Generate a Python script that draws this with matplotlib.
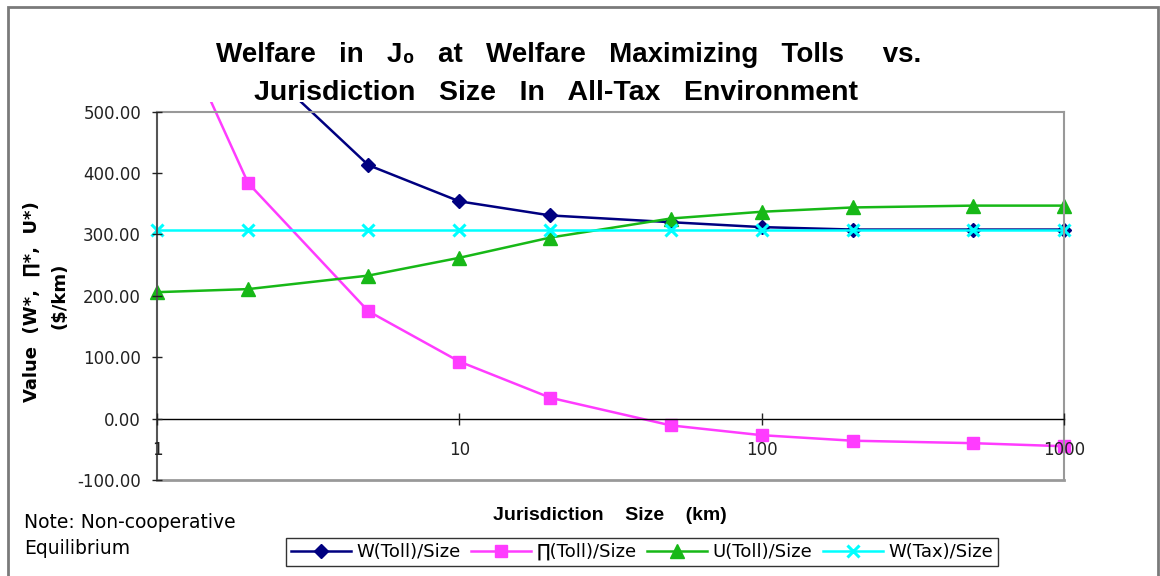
import matplotlib
matplotlib.use("Agg")
import matplotlib.pyplot as plt
from matplotlib.patches import Rectangle
from matplotlib.ticker import FixedLocator, FuncFormatter

# ---- data ----
sizes = [1, 2, 5, 10, 20, 50, 100, 200, 500, 1000]
w_toll = [900, 597, 413, 354, 331, 320, 312, 308, 308, 308]
pi_toll = [710, 384, 175, 93, 34, -11, -27, -36, -40, -45]
u_toll = [206, 211, 233, 262, 295, 326, 337, 344, 347, 347]
w_tax = [308, 308, 308, 308, 308, 308, 308, 308, 308, 308]
series_names = ["W(Toll)/Size", "\u220f(Toll)/Size", "U(Toll)/Size", "W(Tax)/Size"]
y_ticks = [-100, 0, 100, 200, 300, 400, 500]
x_ticks = [1, 10, 100, 1000]

W, H = 1160, 576
fig = plt.figure(figsize=(W / 100, H / 100), dpi=100)
fig.patch.set_facecolor("white")

# outer chart border
fig.add_artist(Rectangle((8 / W, -0.01), (1158 - 8) / W, (H - 7) / H + 0.01,
                         transform=fig.transFigure, fill=False,
                         edgecolor="#7a7a7a", lw=2.0, zorder=0))

ax = fig.add_axes([157 / W, (H - 480) / H, (1064 - 157) / W, (480 - 111.7) / H])
ax.set_xscale("log")
ax.set_xlim(1, 1000)
ax.set_ylim(-100, 500)
ax.set_axisbelow(False)

colors = ["#000080", "#ff3cff", "#17b817", "#00ffff"]
markers = ["D", "s", "^", "x"]
msizes = [7, 8, 10, 9]
data = [w_toll, pi_toll, u_toll, w_tax]

clip = Rectangle((-0.03, -0.05), 1.06, 1.05 + 10 / 368.3, transform=ax.transAxes,
                 fill=False, visible=False)
ax.add_patch(clip)
handles = []
for vals, c, m, ms, name in zip(data, colors, markers, msizes, series_names):
    ln, = ax.plot(sizes, vals, color=c, marker=m, markersize=ms, lw=1.8,
                  markeredgewidth=2.2 if m == "x" else 1.0,
                  markeredgecolor=c, markerfacecolor=c, label=name, zorder=2)
    ln.set_clip_path(clip)
    handles.append(ln)

# spines / frame
for s in ["top", "right"]:
    ax.spines[s].set_color("#999999")
    ax.spines[s].set_linewidth(1.5)
ax.spines["left"].set_color("#555555")
ax.spines["left"].set_linewidth(1.5)
ax.spines["bottom"].set_position(("data", 0))
ax.spines["bottom"].set_color("black")
ax.spines["bottom"].set_linewidth(1.0)
ax.axhline(-100, color="#999999", lw=2.0, clip_on=False, zorder=1)

ax.yaxis.set_major_locator(FixedLocator(y_ticks))
ax.yaxis.set_major_formatter(FuncFormatter(lambda v, p: f"{v:.2f}"))
ax.xaxis.set_major_locator(FixedLocator(x_ticks))
ax.xaxis.set_minor_locator(FixedLocator([]))
ax.xaxis.set_major_formatter(FuncFormatter(lambda v, p: f"{v:g}"))
ax.tick_params(axis="y", direction="inout", length=7, width=1.0, pad=8,
               labelsize=12, colors="#222222")
ax.tick_params(axis="x", direction="inout", length=8, width=1.0, pad=12,
               labelsize=12, colors="#222222")

head = ["Liberation Sans", "DejaVu Sans"]

# title
fig.text(569 / W, (H - 62) / H,
         "Welfare   in   J\u2080   at   Welfare   Maximizing   Tolls     vs.",
         ha="center", va="baseline", fontsize=20, fontweight="bold",
         family=head)
fig.text(556 / W, (H - 100) / H,
         "Jurisdiction   Size   In   All-Tax   Environment",
         ha="center", va="baseline", fontsize=20.5, fontweight="bold",
         family=head)

# y label
fig.text(32 / W, (H - 302) / H, "Value  (W*,  \u220f*,  U*)", rotation=90,
         ha="center", va="center", fontsize=13, fontweight="bold")
fig.text(59 / W, (H - 296) / H, "($/km)", rotation=90,
         ha="center", va="center", fontsize=13, fontweight="bold")

# x label
fig.text(610 / W, (H - 515) / H, "Jurisdiction    Size    (km)",
         ha="center", va="center", fontsize=14, fontweight="bold", family=head)

# note
fig.text(24 / W, (H - 522) / H, "Note: Non-cooperative", ha="left", va="center",
         fontsize=13.5)
fig.text(24 / W, (H - 548) / H, "Equilibrium", ha="left", va="center",
         fontsize=13.5)

leg = fig.legend(handles=handles, loc="center", ncol=4,
                 bbox_to_anchor=(642 / W, (H - 552) / H), fontsize=13,
                 frameon=True, fancybox=False, edgecolor="black",
                 handlelength=3.3, handletextpad=0.3, columnspacing=0.6,
                 borderpad=0.3, borderaxespad=0)
leg.get_frame().set_linewidth(1.0)

fig.savefig("out.png", dpi=100, facecolor="white")
